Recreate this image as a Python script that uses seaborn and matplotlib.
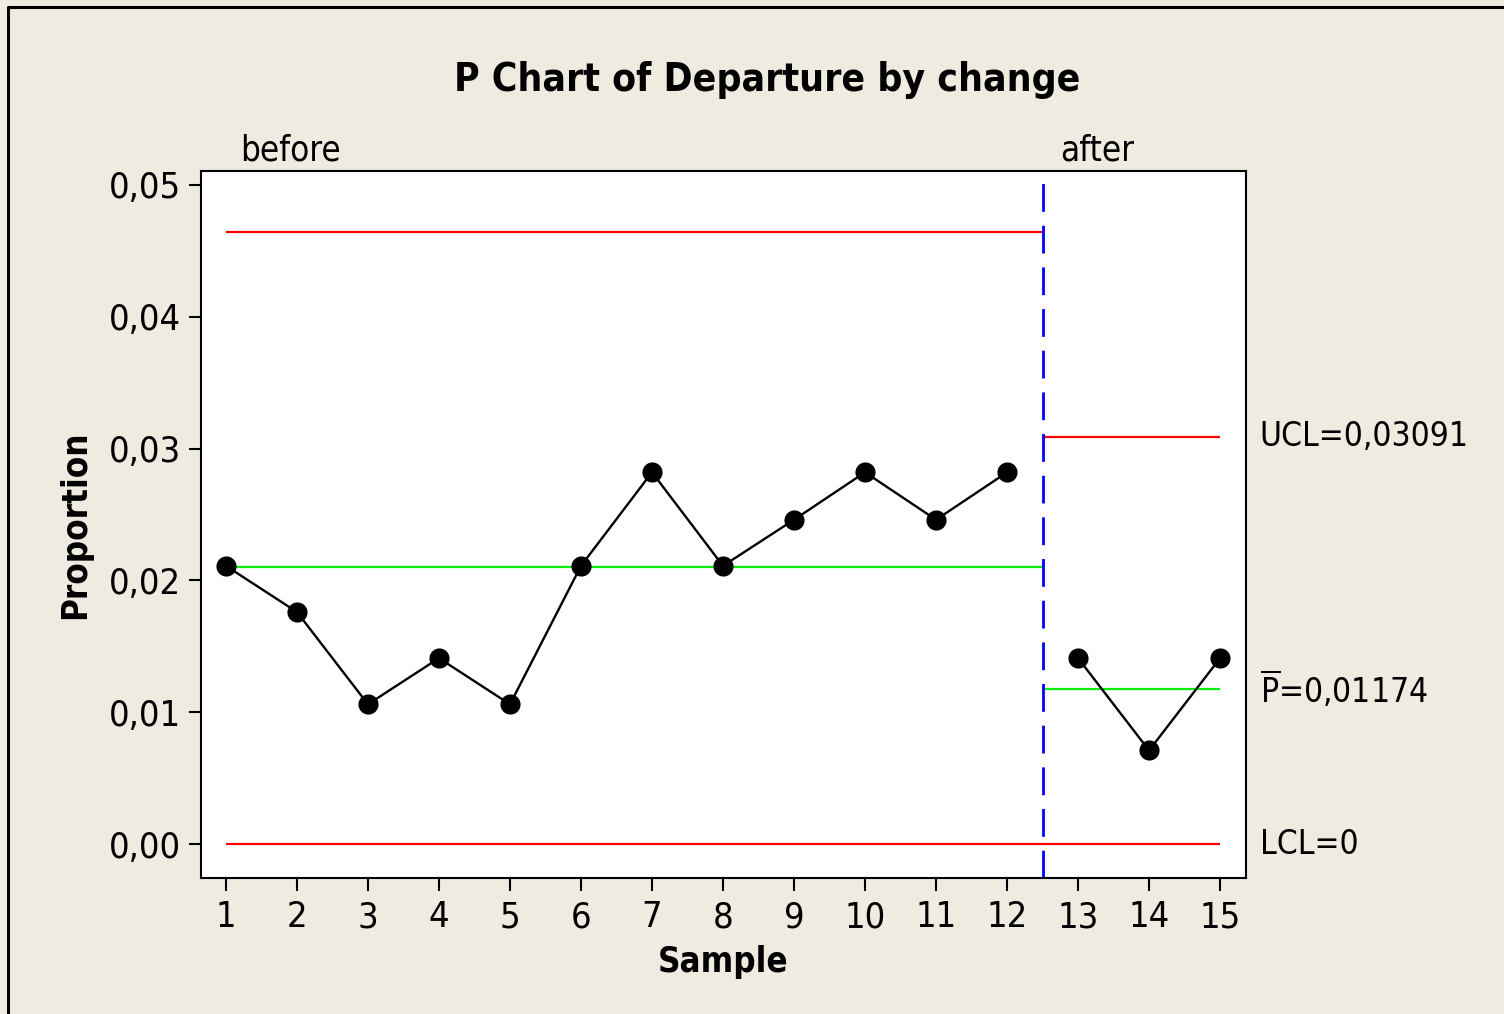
import numpy as np
import pandas as pd
import seaborn as sns
import matplotlib
matplotlib.use("Agg")
from matplotlib import pyplot as plt
from matplotlib.lines import Line2D

# proportions, one per sample
samples = list(range(1, 16))
proportion = [0.0211, 0.0176, 0.0106, 0.0141, 0.0106, 0.0211, 0.0282, 0.0211,
              0.0246, 0.0282, 0.0246, 0.0282, 0.0141, 0.0071, 0.0141]
stage = ["before"] * 12 + ["after"] * 3

# control limits per stage
stage_names = ["before", "after"]
stage_start = [1, 12.5]
stage_end = [12.5, 15]
center_line = [0.0210, 0.01174]
ucl = [0.0464, 0.03091]
lcl = [0.0, 0.0]

ytick_vals = [0.00, 0.01, 0.02, 0.03, 0.04, 0.05]
ytick_labels = ["0,00", "0,01", "0,02", "0,03", "0,04", "0,05"]

df = pd.DataFrame({"Sample": samples, "Proportion": proportion, "stage": stage})

sns.set_theme(style="white")
plt.rcParams["font.family"] = ["DejaVu Sans"]
plt.rcParams["font.stretch"] = "condensed"
plt.rcParams["text.color"] = "black"
plt.rcParams["mathtext.fontset"] = "custom"
plt.rcParams["mathtext.rm"] = "DejaVu Sans"

bg = "#EFEBE1"
fig = plt.figure(figsize=(15.04, 10.14), dpi=100, facecolor=bg)
ax = fig.add_axes([0.1336, 0.1341, 0.6949, 0.6973])
ax.set_facecolor("white")

# control limit segments
for i in range(len(stage_names)):
    ax.hlines(ucl[i], stage_start[i], stage_end[i], color="#FF0000", lw=1.6, zorder=2)
    ax.hlines(center_line[i], stage_start[i], stage_end[i], color="#00EE00", lw=1.6, zorder=2)
    ax.hlines(lcl[i], stage_start[i], stage_end[i], color="#FF0000", lw=1.6, zorder=2)

# stage boundary
ax.axvline(stage_start[1], color="#0000FF", lw=2.0, dashes=(10, 5), zorder=2)

sns.lineplot(data=df, x="Sample", y="Proportion", hue="stage", palette=["black", "black"],
             estimator=None, marker="o", markersize=14.5, markeredgewidth=0,
             linewidth=1.7, legend=False, ax=ax, zorder=3)

ax.set_xlim(0.648, 15.366)
ax.set_ylim(-0.00258, 0.05106)
ax.set_xticks(samples)
ax.set_xticklabels([str(s) for s in samples])
ax.set_yticks(ytick_vals)
ax.set_yticklabels(ytick_labels)
ax.tick_params(axis="both", direction="out", length=9, width=1.5, color="black",
               labelsize=26, labelcolor="black", pad=5, left=True, bottom=True)
ax.tick_params(axis="x", pad=7)
for sp in ax.spines.values():
    sp.set_visible(True)
    sp.set_color("black")
    sp.set_linewidth(1.5)

ax.set_xlabel("Sample", fontsize=25, fontweight="bold", color="black", labelpad=8)
ax.set_ylabel("Proportion", fontsize=25, fontweight="bold", color="black", labelpad=12)

# limit labels on the right
trans = ax.get_yaxis_transform()
ax.text(1.013, ucl[1], "UCL=0,03091", transform=trans, fontsize=24, va="center", ha="left", color="black")
ax.text(1.013, center_line[1], r"$\overline{\mathrm{P}}$=0,01174", transform=trans,
        fontsize=24, va="center", ha="left", color="black")
ax.text(1.013, lcl[1], "LCL=0", transform=trans, fontsize=24, va="center", ha="left", color="black")

# stage names above the plot
xtrans = ax.get_xaxis_transform()
ax.text(stage_start[0] + 0.2, 1.005, "before", transform=xtrans, fontsize=25, va="bottom", ha="left", color="black")
ax.text(stage_start[1] + 0.25, 1.005, "after", transform=xtrans, fontsize=25, va="bottom", ha="left", color="black")

fig.text(0.51, 0.921, "P Chart of Departure by change", fontsize=28, fontweight="bold",
         ha="center", va="center", color="black")

# outer frame (left and top edges visible)
x0, y0 = 8 / 1504, 1 - 7 / 1014
fig.add_artist(Line2D([x0, x0, 1.0], [0.0, y0, y0], transform=fig.transFigure,
                      color="black", lw=2.2))

fig.savefig("out.png", dpi=100, facecolor=bg)
